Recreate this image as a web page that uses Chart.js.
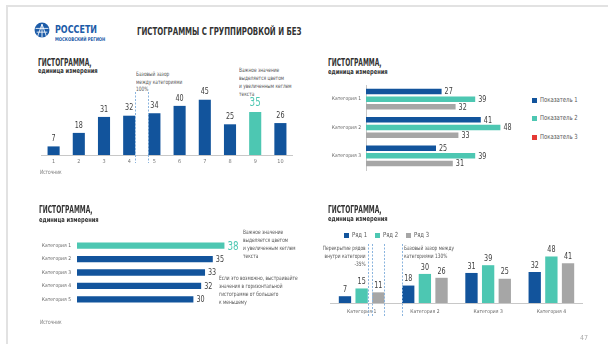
<!DOCTYPE html>
<html lang="ru">
<head>
<meta charset="utf-8">
<script src="https://cdn.jsdelivr.net/npm/chart.js@4.4.1/dist/chart.umd.min.js"></script>
<style>
  body { margin: 0; width: 608px; height: 344px; background: #fff; position: relative; overflow: hidden;
    font-family: 'Liberation Sans Narrow', 'DejaVu Sans Condensed', Roboto, sans-serif; color: #3a3a3a; }
  .frame { position: absolute; left: 6px; top: 5px; width: 610px; height: 350px;
    border-left: 2px solid #e2e2e2; border-top: 2px solid #e2e2e2; }
  .t { position: absolute; white-space: nowrap; transform-origin: 0 0; }
  canvas { position: absolute; }
  .ttl { font-weight: bold; font-size: 10px; line-height: 10px; color: #333; transform: scaleX(0.66); }
  .sub { font-weight: bold; font-size: 7px; line-height: 7px; color: #333; transform: scaleX(0.82); }
  .note { font-size: 6px; line-height: 8px; color: #555; transform: scaleX(0.8); }
  .note.r { transform-origin: 100% 0; text-align: right; }
  .src { font-size: 6px; line-height: 6px; color: #777; transform: scaleX(0.8); }
  .legbox { position: absolute; font-size: 0; line-height: 0; }
  .leg { font-size: 7px; line-height: 7px; color: #555; white-space: nowrap; height: 7px; }
  .leg i { display: inline-block; width: 5px; height: 5px; margin: 1px 3px 0 0; vertical-align: top; }
  .leg span { display: inline-block; transform: scaleX(0.84); transform-origin: 0 0; vertical-align: top; }
</style>
</head>
<body>
<div class="frame"></div>

<!-- логотип -->
<svg class="t" style="left:34px;top:22px" width="16" height="16" viewBox="0 0 30 30">
  <circle cx="15" cy="15" r="14" fill="#1d5ca8"/>
  <g stroke="#fff" stroke-width="1.6" fill="none">
    <path d="M15 4 L6 29 M15 4 L24 29 M15 4 L15 29 M3 12 L27 12 M5 19 L25 19"/>
  </g>
</svg>
<div class="t" style="left:55px;top:25px;font-weight:bold;font-size:10px;line-height:10px;color:#1d5ca8;transform:scaleX(0.89)">РОССЕТИ</div>
<div class="t" style="left:55px;top:37px;font-weight:bold;font-size:5px;line-height:5px;color:#1d5ca8;transform:scaleX(0.85)">МОСКОВСКИЙ РЕГИОН</div>
<div class="t" style="left:137px;top:26px;font-weight:bold;font-size:10.5px;line-height:11px;color:#333;transform:scaleX(0.74)">ГИСТОГРАММЫ С ГРУППИРОВКОЙ И БЕЗ</div>

<!-- верх слева -->
<div class="t ttl" style="left:38px;top:58px">ГИСТОГРАММА,</div>
<div class="t sub" style="left:38px;top:68px">единица измерения</div>
<div class="t note" style="left:136px;top:70px;line-height:7.5px">Базовый зазор<br>между категориями<br>100%</div>
<div class="t note" style="left:239px;top:66px">Важное значение<br>выделяется цветом<br>и увеличенным кеглем<br>текста</div>
<canvas id="colChart" width="252" height="84" style="left:41px;top:85px"></canvas>
<div class="t src" style="left:40px;top:169px">Источник</div>

<!-- верх справа -->
<div class="t ttl" style="left:328px;top:58px">ГИСТОГРАММА,</div>
<div class="t sub" style="left:328px;top:69px">единица измерения</div>
<canvas id="groupChart" width="214" height="101" style="left:306px;top:77px"></canvas>
<div id="groupLegend" class="legbox" style="left:532px;top:96.5px"></div>

<!-- низ слева -->
<div class="t ttl" style="left:39px;top:205px">ГИСТОГРАММА,</div>
<div class="t sub" style="left:39px;top:217px">единица измерения</div>
<canvas id="rankChart" width="244" height="85" style="left:27px;top:230px"></canvas>
<div class="t note" style="left:243px;top:228px">Важное значение<br>выделяется цветом<br>и увеличенным кеглем<br>текста</div>
<div class="t note" style="left:219px;top:274px">Если это возможно, выстраивайте<br>значения в горизонтальной<br>гистограмме от большего<br>к меньшему</div>
<div class="t src" style="left:40px;top:319px">Источник</div>

<!-- низ справа -->
<div class="t ttl" style="left:328px;top:205px">ГИСТОГРАММА,</div>
<div class="t sub" style="left:328px;top:216px">единица измерения</div>
<div id="rowLegend" class="legbox" style="left:344px;top:232px"></div>
<div class="t note r" style="right:242px;top:244px">Перекрытие рядов<br>внутри категории<br>-35%</div>
<div class="t note" style="left:404px;top:244px">Базовый зазор между<br>категориями 130%</div>
<canvas id="rowChart" width="253" height="79" style="left:330px;top:240px"></canvas>
<div class="t" style="left:580px;top:335px;font-size:7px;line-height:7px;color:#aaa">47</div>

<script>
const FONT = "'Liberation Sans Narrow', 'DejaVu Sans Condensed', Roboto, sans-serif";
const BLUE = "#12549c";
const TEAL = "#4dc7b2";
const GREY = "#a6a6a6";
const RED = "#e53935";
const TEXT = "#404040";

// простая гистограмма
const colCats = ["1", "2", "3", "4", "5", "6", "7", "8", "9", "10"];
const colValues = [7, 18, 31, 32, 34, 40, 45, 25, 35, 26];
const colHighlight = 8;

// горизонтальная с группировкой
const groupCats = ["Категория 1", "Категория 2", "Категория 3"];
const groupSeries = ["Показатель 1", "Показатель 2", "Показатель 3"];
const groupP1 = [27, 41, 25];
const groupP2 = [39, 48, 39];
const groupP3 = [32, 33, 31];
const groupLegendColors = [BLUE, TEAL, RED];

// горизонтальная по убыванию
const rankCats = ["Категория 1", "Категория 2", "Категория 3", "Категория 4", "Категория 5"];
const rankValues = [38, 35, 33, 32, 30];
const rankHighlight = 0;

// вертикальная с группировкой
const rowCats = ["Категория 1", "Категория 2", "Категория 3", "Категория 4"];
const rowSeries = ["Ряд 1", "Ряд 2", "Ряд 3"];
const row1 = [7, 18, 31, 32];
const row2 = [15, 30, 39, 48];
const row3 = [11, 26, 25, 41];

Chart.defaults.font.family = FONT;
Chart.defaults.animation = false;
Chart.defaults.plugins.legend.display = false;
Chart.defaults.plugins.tooltip.enabled = false;

// подписи значений над/справа от столбцов, шрифт сжат по горизонтали
const barValues = {
  id: "barValues",
  afterDatasetsDraw(chart, args, opts) {
    const ctx = chart.ctx;
    const horizontal = chart.options.indexAxis === "y";
    const sx = opts.squeeze || 0.75;
    ctx.save();
    chart.data.datasets.forEach((ds, di) => {
      chart.getDatasetMeta(di).data.forEach((bar, i) => {
        const big = opts.highlight === i;
        ctx.font = (big ? opts.bigSize : opts.size) + "px " + FONT;
        ctx.fillStyle = big ? TEAL : TEXT;
        ctx.save();
        if (horizontal) {
          ctx.textAlign = "left";
          ctx.textBaseline = "middle";
          ctx.translate(bar.x + opts.gap, bar.y + 0.5);
        } else {
          ctx.textAlign = "center";
          ctx.textBaseline = "bottom";
          ctx.translate(bar.x, bar.y - opts.gap);
        }
        ctx.scale(sx, 1);
        ctx.fillText(ds.data[i], 0, 0);
        ctx.restore();
      });
    });
    ctx.restore();
  }
};

// пунктир по краям столбцов — показывает зазоры
const gapLines = {
  id: "gapLines",
  afterDatasetsDraw(chart, args, opts) {
    if (!opts.edges) return;
    const { ctx, chartArea } = chart;
    ctx.save();
    ctx.strokeStyle = "#8ab4de";
    ctx.lineWidth = 1;
    ctx.setLineDash([2, 1.5]);
    opts.edges.forEach(([di, i, side]) => {
      const bar = chart.getDatasetMeta(di).data[i];
      const edge = side === "left" ? bar.x - bar.width / 2 : bar.x + bar.width / 2;
      const x = Math.round(edge) + 0.5;
      ctx.beginPath();
      ctx.moveTo(x, chartArea.top + opts.top);
      ctx.lineTo(x, chartArea.bottom + opts.bottom);
      ctx.stroke();
    });
    ctx.restore();
  }
};

function htmlLegend(el, names, colors, itemStyle) {
  el.innerHTML = names.map((n, i) =>
    `<div class="leg" style="${itemStyle}"><i style="background:${colors[i]}"></i><span>${n}</span></div>`
  ).join("");
}

new Chart(document.getElementById("colChart"), {
  type: "bar",
  data: {
    labels: colCats,
    datasets: [{
      data: colValues,
      backgroundColor: colValues.map((v, i) => (i === colHighlight ? TEAL : BLUE)),
      barPercentage: 0.48,
      categoryPercentage: 1
    }]
  },
  options: {
    responsive: false,
    devicePixelRatio: 1,
    plugins: {
      barValues: { size: 9.5, bigSize: 13, gap: 3, highlight: colHighlight },
      gapLines: { edges: [[0, 3, "right"], [0, 4, "left"]], top: 7, bottom: 8 }
    },
    scales: {
      x: {
        grid: { display: false, drawTicks: false },
        border: { color: "#c8c8c8" },
        ticks: { font: { size: 5.5 }, color: "#777", padding: 3 },
        afterFit(s) { s.height = 14; }
      },
      y: { display: false, min: 0, max: 57 }
    }
  },
  plugins: [barValues, gapLines]
});

new Chart(document.getElementById("groupChart"), {
  type: "bar",
  data: {
    labels: groupCats,
    datasets: [
      { label: groupSeries[0], data: groupP1, backgroundColor: BLUE },
      { label: groupSeries[1], data: groupP2, backgroundColor: TEAL },
      { label: groupSeries[2], data: groupP3, backgroundColor: GREY }
    ]
  },
  options: {
    responsive: false,
    devicePixelRatio: 1,
    indexAxis: "y",
    datasets: { bar: { categoryPercentage: 0.81, barPercentage: 0.72 } },
    plugins: { barValues: { size: 9.5, gap: 3 } },
    scales: {
      x: { display: false, min: 0, max: 55 },
      y: {
        grid: { display: false, drawTicks: false },
        border: { color: "#c8c8c8" },
        ticks: { font: { size: 5 }, color: "#666", padding: 5 },
        afterFit(s) { s.width = 60; }
      }
    }
  },
  plugins: [barValues]
});
htmlLegend(document.getElementById("groupLegend"), groupSeries, groupLegendColors, "margin-bottom:11.5px");

new Chart(document.getElementById("rankChart"), {
  type: "bar",
  data: {
    labels: rankCats,
    datasets: [{
      data: rankValues,
      backgroundColor: rankValues.map((v, i) => (i === rankHighlight ? TEAL : BLUE)),
      categoryPercentage: 1,
      barPercentage: 0.47
    }]
  },
  options: {
    responsive: false,
    devicePixelRatio: 1,
    indexAxis: "y",
    plugins: { barValues: { size: 9.5, bigSize: 13, gap: 3, highlight: rankHighlight } },
    scales: {
      x: { display: false, min: 0, max: 50 },
      y: {
        grid: { display: false, drawTicks: false },
        border: { display: false },
        ticks: { font: { size: 5 }, color: "#666", padding: 6 },
        afterFit(s) { s.width = 50; }
      }
    }
  },
  plugins: [barValues]
});

new Chart(document.getElementById("rowChart"), {
  type: "bar",
  data: {
    labels: rowCats,
    datasets: [
      { label: rowSeries[0], data: row1, backgroundColor: BLUE },
      { label: rowSeries[1], data: row2, backgroundColor: TEAL },
      { label: rowSeries[2], data: row3, backgroundColor: GREY }
    ]
  },
  options: {
    responsive: false,
    devicePixelRatio: 1,
    datasets: { bar: { categoryPercentage: 0.79, barPercentage: 0.74 } },
    plugins: {
      barValues: { size: 9.5, gap: 2 },
      gapLines: { edges: [[1, 0, "right"], [2, 0, "left"], [2, 0, "right"], [0, 1, "left"]], top: 4, bottom: 13 }
    },
    scales: {
      x: {
        grid: { display: false, drawTicks: false },
        border: { color: "#c8c8c8" },
        ticks: { font: { size: 5 }, color: "#666", padding: 6 },
        afterFit(s) { s.height = 16; }
      },
      y: { display: false, min: 0, max: 65 }
    }
  },
  plugins: [barValues, gapLines]
});
htmlLegend(document.getElementById("rowLegend"), rowSeries, [BLUE, TEAL, GREY], "display:inline-block;width:31px");
</script>
</body>
</html>
